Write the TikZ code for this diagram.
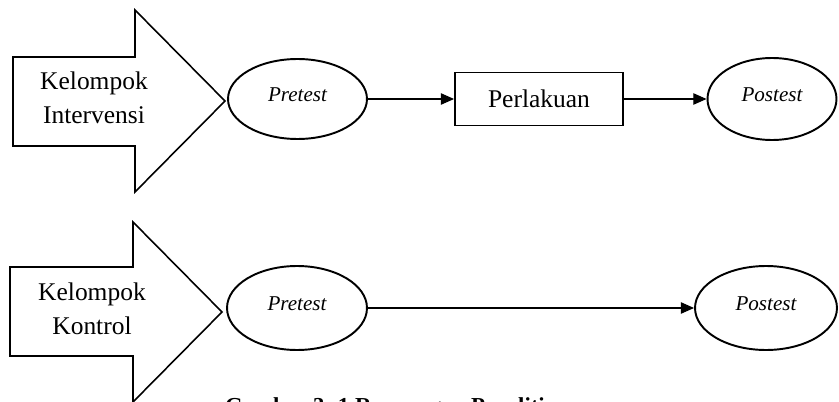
\documentclass[tikz,border=0pt]{standalone}
\usepackage{fontspec}
\setmainfont{Liberation Serif}
\usetikzlibrary{calc, positioning, shapes, arrows, arrows.meta}
\tikzstyle{tes}=[ellipse,draw,line width=1.1pt,inner sep=0pt,text depth=4.5pt,font=\fontsize{12}{14}\selectfont\itshape]
\tikzstyle{kotak}=[rectangle,draw,line width=1.1pt,inner sep=0pt,font=\fontsize{14.5}{17}\selectfont]
\tikzstyle{grup}=[draw,line width=0.9pt,line join=miter]
\tikzstyle{teksgrup}=[align=center,inner sep=0pt,font=\fontsize{14.5}{19.5}\selectfont]
\tikzstyle{panah}=[-{Triangle[length=7.5pt,width=6.5pt]},line width=0.6pt]

\begin{document}
\begin{tikzpicture}[x=0.02cm,y=-0.02cm]
			\useasboundingbox (0,0) rectangle (839,402);
			% panah kelompok
			\draw[grup] (13,57) -- (135,57) -- (135,10) -- (225,101) -- (135,192) -- (135,146) -- (13,146) -- cycle;
			\draw[grup] (10,267) -- (133,267) -- (133,222) -- (222,312) -- (133,402) -- (133,356) -- (10,356) -- cycle;
			\node[teksgrup] (intervensi) at (94,98) {Kelompok\\Intervensi};
			\node[teksgrup] (kontrol) at (92,309) {Kelompok\\Kontrol};

			\node[tes,minimum width=2.78cm,minimum height=1.6cm] (pre1) at (297.5,99) {Pretest};
			\node[kotak,minimum width=3.36cm,minimum height=1.06cm] (perlakuan) at (539,99) {Perlakuan};
			\node[tes,minimum width=2.58cm,minimum height=1.64cm] (post1) at (772,99) {Postest};

			\node[tes,minimum width=2.8cm,minimum height=1.68cm] (pre2) at (297,308) {Pretest};
			\node[tes,minimum width=2.84cm,minimum height=1.68cm] (post2) at (766,308) {Postest};

			\path[panah]
			(pre1) edge (perlakuan)
			(perlakuan) edge (post1)
			(pre2) edge (post2)
			;

			\node[anchor=north,inner sep=0pt,font=\fontsize{13}{15}\selectfont\bfseries] (judul) at (397,397) {Gambar 3. 1 Rancangan Penelitian};
		\end{tikzpicture}
\end{document}
